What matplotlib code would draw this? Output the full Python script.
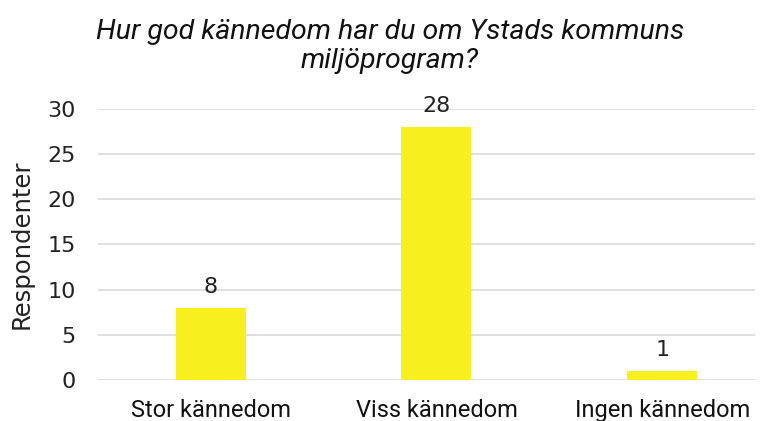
import matplotlib
matplotlib.use("Agg")
import matplotlib.pyplot as plt

categories = ["Stor kännedom", "Viss kännedom", "Ingen kännedom"]
values = [8, 28, 1]
yticks = [0, 5, 10, 15, 20, 25, 30]
title = "Hur god kännedom har du om Ystads kommuns\nmiljöprogram?"
ylabel = "Respondenter"

fig = plt.figure(figsize=(7.64, 4.21), dpi=100)
ax = fig.add_axes([0.128, 0.0974, 0.86, 0.644])

x = list(range(len(categories)))
ax.bar(x, values, width=0.31, color="#F7EF1E", zorder=3)
for xi, v in zip(x, values):
    ax.text(xi, v + 1.2, str(v), ha="center", va="bottom", fontsize=16,
            family="DejaVu Sans", color="#222222")

ax.set_ylim(0, 30)
ax.set_xlim(-0.5, 2.41)
ax.set_yticks(yticks)
ax.set_xticks(x)
ax.set_xticklabels(categories, family="Roboto", fontsize=17, color="#111111")
for lbl in ax.get_yticklabels():
    lbl.set_fontfamily("DejaVu Sans")
    lbl.set_fontsize(16)
    lbl.set_color("#222222")
ax.tick_params(axis="both", length=0)
ax.tick_params(axis="x", pad=14)
ax.tick_params(axis="y", pad=16)
ax.grid(axis="y", color="#D9D9D9", linewidth=1.2, zorder=0)
for s in ax.spines.values():
    s.set_visible(False)
ax.set_ylabel(ylabel, family="DejaVu Sans", fontsize=17.5, color="#222222", labelpad=10)

fig.text(0.51, 0.955, title, ha="center", va="top", fontsize=20.5, style="italic",
         family="Roboto", color="#111111", linespacing=1.17)

fig.savefig("out.png", dpi=100)
